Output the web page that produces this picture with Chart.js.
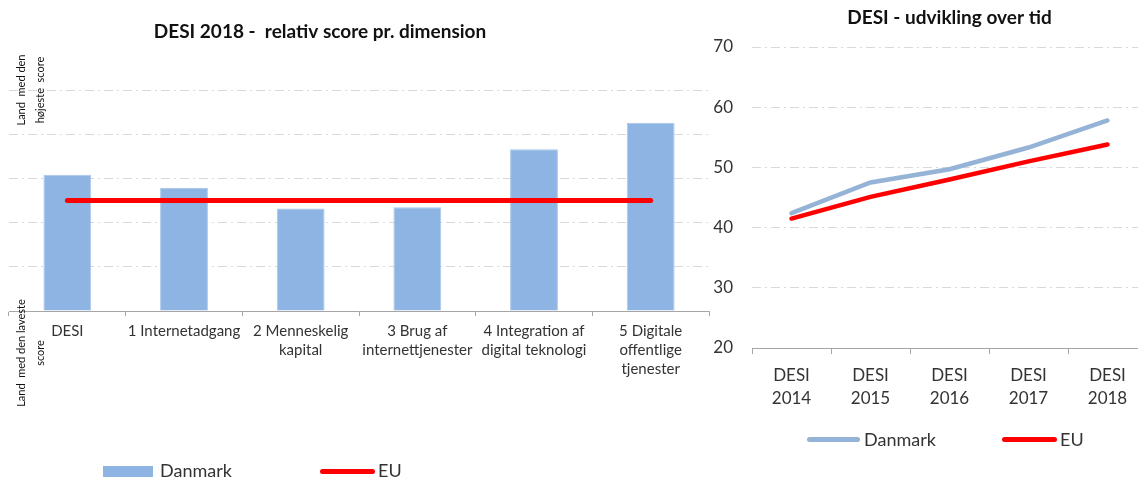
<!DOCTYPE html>
<html>
<head>
  <title>DESI 2018</title>
  <style>
    body { margin: 0; width: 1138px; height: 477px; overflow: hidden; position: relative; background: #fff; font-family: Lato, sans-serif; color: #333; }
    #left { position: absolute; left: 0; top: 0; width: 712px; height: 477px; }
    #right { position: absolute; left: 712px; top: 0; width: 438px; height: 477px; }
    .sw { position: absolute; }
    .lt { position: absolute; line-height: 20px; white-space: nowrap; }
  </style>
</head>
<body>
  <div id="left"><canvas id="relCanvas"></canvas></div>
  <div id="right"><canvas id="devCanvas"></canvas></div>

  <!-- legend, left chart -->
  <div class="sw" style="left:103px; top:466px; width:50px; height:12px; background:#8eb4e3;"></div>
  <div class="lt" style="left:160px; top:460px; font-size:18px;">Danmark</div>
  <div class="sw" style="left:320px; top:469px; width:55px; height:5px; background:#ff0000; border-radius:3px;"></div>
  <div class="lt" style="left:378px; top:460px; font-size:18px;">EU</div>

  <!-- legend, right chart -->
  <div class="sw" style="left:807px; top:437px; width:53px; height:5px; background:#95b3d7; border-radius:3px;"></div>
  <div class="lt" style="left:864px; top:429px; font-size:18px;">Danmark</div>
  <div class="sw" style="left:1002px; top:437px; width:55px; height:5px; background:#ff0000; border-radius:3px;"></div>
  <div class="lt" style="left:1060px; top:429px; font-size:18px;">EU</div>

  <script src="https://cdn.jsdelivr.net/npm/chart.js"></script>
  <script>
    // DESI 2018 - relativ score pr. dimension
    const dimensions = [
      ['DESI'],
      ['1 Internetadgang'],
      ['2 Menneskelig', 'kapital'],
      ['3 Brug af', 'internettjenester'],
      ['4 Integration af', 'digital teknologi'],
      ['5 Digitale', 'offentlige', 'tjenester']
    ];
    const danmarkRelative = [3.08, 2.79, 2.32, 2.35, 3.66, 4.26];
    const euRelative = [2.5, 2.5, 2.5, 2.5, 2.5, 2.5];

    // DESI - udvikling over tid
    const years = [['DESI', '2014'], ['DESI', '2015'], ['DESI', '2016'], ['DESI', '2017'], ['DESI', '2018']];
    const danmarkScore = [42.4, 47.5, 49.7, 53.3, 57.8];
    const euScore = [41.5, 45.1, 48.0, 51.0, 53.8];
    const scoreTicks = [20, 30, 40, 50, 60, 70];

    const gridColor = '#d9d9d9';
    const axisColor = '#a6a6a6';
    const dashDot = [9, 4, 2, 4];

    // title + rotated axis texts for the left chart
    const relLabels = {
      id: 'relLabels',
      afterDraw(chart) {
        const ctx = chart.ctx;
        const y = chart.scales.y;
        ctx.save();
        ctx.fillStyle = '#111';
        ctx.textAlign = 'center';
        ctx.textBaseline = 'middle';
        ctx.font = 'bold 19px Lato';
        ctx.fillText('DESI 2018 -  relativ score pr. dimension', 320, 32);
        ctx.font = '11px Lato';
        const blocks = [
          [y.getPixelForValue(5), ['Land  med den', 'højeste  score']],
          [y.getPixelForValue(0) + 42, ['Land  med den laveste', 'score']]
        ];
        blocks.forEach(([cy, lines]) => {
          lines.forEach((t, i) => {
            ctx.save();
            ctx.translate(21 + i * 19, cy);
            ctx.rotate(-Math.PI / 2);
            ctx.fillText(t, 0, 0);
            ctx.restore();
          });
        });
        ctx.restore();
      }
    };

    new Chart(document.getElementById('relCanvas'), {
      type: 'bar',
      data: {
        labels: dimensions,
        datasets: [
          {
            type: 'line',
            label: 'EU',
            data: euRelative,
            borderColor: '#ff0000',
            borderWidth: 5,
            borderCapStyle: 'round',
            pointRadius: 0,
            order: 0
          },
          {
            label: 'Danmark',
            data: danmarkRelative,
            backgroundColor: '#8eb4e3',
            borderColor: '#a9c6ea',
            borderWidth: 1,
            categoryPercentage: 1,
            barPercentage: 0.41,
            order: 1
          }
        ]
      },
      options: {
        responsive: true,
        maintainAspectRatio: false,
        animation: false,
        layout: { padding: { top: 90, right: 3, bottom: 86, left: 0 } },
        plugins: { legend: { display: false }, tooltip: { enabled: false } },
        scales: {
          x: {
            grid: { drawOnChartArea: false, offset: true, tickLength: 5, tickColor: axisColor },
            border: { color: axisColor },
            ticks: { color: '#333', font: { family: 'Lato', size: 15, lineHeight: 1.27 }, padding: 6, maxRotation: 0, autoSkip: false },
            afterFit: s => { s.height = 80; }
          },
          y: {
            min: 0,
            max: 5,
            ticks: { display: false, stepSize: 1 },
            grid: { color: gridColor, drawTicks: false },
            border: { display: false, dash: dashDot },
            afterFit: s => { s.width = 9; }
          }
        }
      },
      plugins: [relLabels]
    });

    new Chart(document.getElementById('devCanvas'), {
      type: 'line',
      data: {
        labels: years,
        datasets: [
          {
            label: 'EU',
            data: euScore,
            borderColor: '#ff0000',
            borderWidth: 4.5,
            borderCapStyle: 'round',
            pointRadius: 0,
            order: 0
          },
          {
            label: 'Danmark',
            data: danmarkScore,
            borderColor: '#95b3d7',
            borderWidth: 4.5,
            borderCapStyle: 'round',
            pointRadius: 0,
            order: 1
          }
        ]
      },
      options: {
        responsive: true,
        maintainAspectRatio: false,
        animation: false,
        layout: { padding: { top: 0, right: 3, bottom: 49, left: 0 } },
        plugins: {
          legend: { display: false },
          tooltip: { enabled: false },
          title: {
            display: true,
            text: 'DESI - udvikling over tid',
            fullSize: false,
            color: '#111',
            font: { family: 'Lato', size: 19, weight: 'bold', lineHeight: 1.2 },
            padding: { top: 6.6, bottom: 17.6 }
          }
        },
        scales: {
          x: {
            offset: true,
            grid: { drawOnChartArea: false, offset: true, tickLength: 6, tickColor: axisColor },
            border: { color: axisColor },
            ticks: { color: '#333', font: { family: 'Lato', size: 17, lineHeight: 1.35 }, padding: 10, maxRotation: 0, autoSkip: false },
            afterFit: s => { s.height = 80; }
          },
          y: {
            min: scoreTicks[0],
            max: scoreTicks[scoreTicks.length - 1],
            ticks: { stepSize: scoreTicks[1] - scoreTicks[0], color: '#333', font: { family: 'Lato', size: 17 }, padding: 19 },
            grid: { color: gridColor, drawTicks: false },
            border: { display: false, dash: dashDot },
            afterFit: s => { s.width = 40; }
          }
        }
      }
    });
  </script>
</body>
</html>
